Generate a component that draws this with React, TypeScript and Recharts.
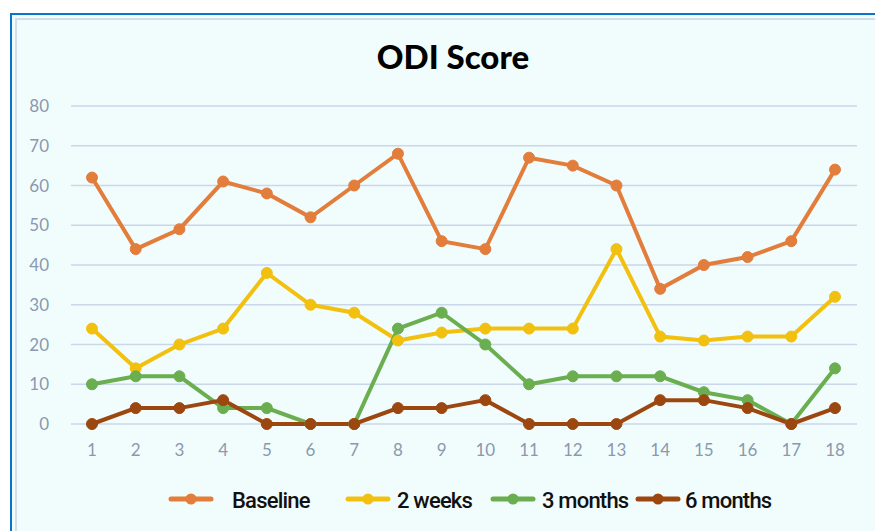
import React from "react";
import { LineChart, Line, XAxis, YAxis, CartesianGrid, Legend } from "recharts";

const visits = ["1", "2", "3", "4", "5", "6", "7", "8", "9", "10", "11", "12", "13", "14", "15", "16", "17", "18"];
const baseline = [62, 44, 49, 61, 58, 52, 60, 68, 46, 44, 67, 65, 60, 34, 40, 42, 46, 64];
const twoWeeks = [24, 14, 20, 24, 38, 30, 28, 21, 23, 24, 24, 24, 44, 22, 21, 22, 22, 32];
const threeMonths = [10, 12, 12, 4, 4, 0, 0, 24, 28, 20, 10, 12, 12, 12, 8, 6, 0, 14];
const sixMonths = [0, 4, 4, 6, 0, 0, 0, 4, 4, 6, 0, 0, 0, 6, 6, 4, 0, 4];
const yTicks = [0, 10, 20, 30, 40, 50, 60, 70, 80];

// legend placement (icon left, text left), in chart pixels
const SERIES = [
  { key: "Baseline", color: "#e27d3c", icon: 168, text: 232 },
  { key: "2 weeks", color: "#f2c00f", icon: 345, text: 397 },
  { key: "3 months", color: "#6aae4f", icon: 490, text: 542 },
  { key: "6 months", color: "#9c4710", icon: 635, text: 685 },
];

const data = visits.map((v, i) => ({
  visit: v,
  Baseline: baseline[i],
  "2 weeks": twoWeeks[i],
  "3 months": threeMonths[i],
  "6 months": sixMonths[i],
}));

const tickStyle = { fill: "#8b98ae", fontSize: 17, fontFamily: "Lato, 'Open Sans', sans-serif" };

const renderLegend = () => (
  <div style={{ position: "relative", height: 67, fontFamily: "Roboto, sans-serif", fontWeight: 500, fontSize: 22, color: "#111" }}>
    {SERIES.map((s) => (
      <React.Fragment key={s.key}>
        <svg width={46} height={14} style={{ position: "absolute", left: s.icon, top: 28 }}>
          <line x1={3} y1={7} x2={43} y2={7} stroke={s.color} strokeWidth={5} strokeLinecap="round" />
          <circle cx={23} cy={7} r={5.5} fill={s.color} />
        </svg>
        <span style={{ position: "absolute", left: s.text, top: 22, letterSpacing: -0.8, whiteSpace: "nowrap", lineHeight: "30px" }}>
          {s.key}
        </span>
      </React.Fragment>
    ))}
  </div>
);

export default function App() {
  return (
    <div style={{ position: "absolute", left: 0, top: 0, width: 875, height: 531, background: "#fff", overflow: "hidden" }}>
      <div
        style={{
          position: "absolute",
          left: 10,
          top: 13,
          width: 900,
          height: 560,
          border: "2px solid #0b74c8",
          boxSizing: "border-box",
          background: "#f1fdfd",
        }}
      >
        <div style={{ position: "absolute", left: 3, top: 3, right: 0, bottom: 0, border: "2px solid #d3deec" }} />
      </div>
      <div
        style={{
          position: "absolute",
          left: 0,
          top: 36,
          width: 906,
          textAlign: "center",
          fontFamily: "Lato, 'Open Sans', sans-serif",
          fontWeight: 900,
          fontSize: 33,
          color: "#000",
        }}
      >
        ODI Score
      </div>
      <div style={{ position: "absolute", left: 0, top: 0 }}>
        <LineChart width={875} height={531} data={data} margin={{ top: 106, right: 18, left: 0, bottom: 0 }}>
          <CartesianGrid vertical={false} stroke="#cad6ea" strokeWidth={1.5} />
          <XAxis
            dataKey="visit"
            axisLine={false}
            tickLine={false}
            tick={tickStyle}
            tickMargin={14}
            height={40}
            interval={0}
            padding={{ left: 21, right: 22 }}
          />
          <YAxis
            domain={[0, 80]}
            ticks={yTicks}
            axisLine={false}
            tickLine={false}
            tick={tickStyle}
            width={71}
            tickMargin={16}
          />
          <Legend verticalAlign="bottom" height={67} content={renderLegend} />
          {SERIES.map((s) => (
            <Line
              key={s.key}
              type="linear"
              dataKey={s.key}
              stroke={s.color}
              strokeWidth={4}
              dot={{ r: 5.5, fill: s.color, stroke: s.color, strokeWidth: 1 }}
              activeDot={false}
              isAnimationActive={false}
            />
          ))}
        </LineChart>
      </div>
    </div>
  );
}
